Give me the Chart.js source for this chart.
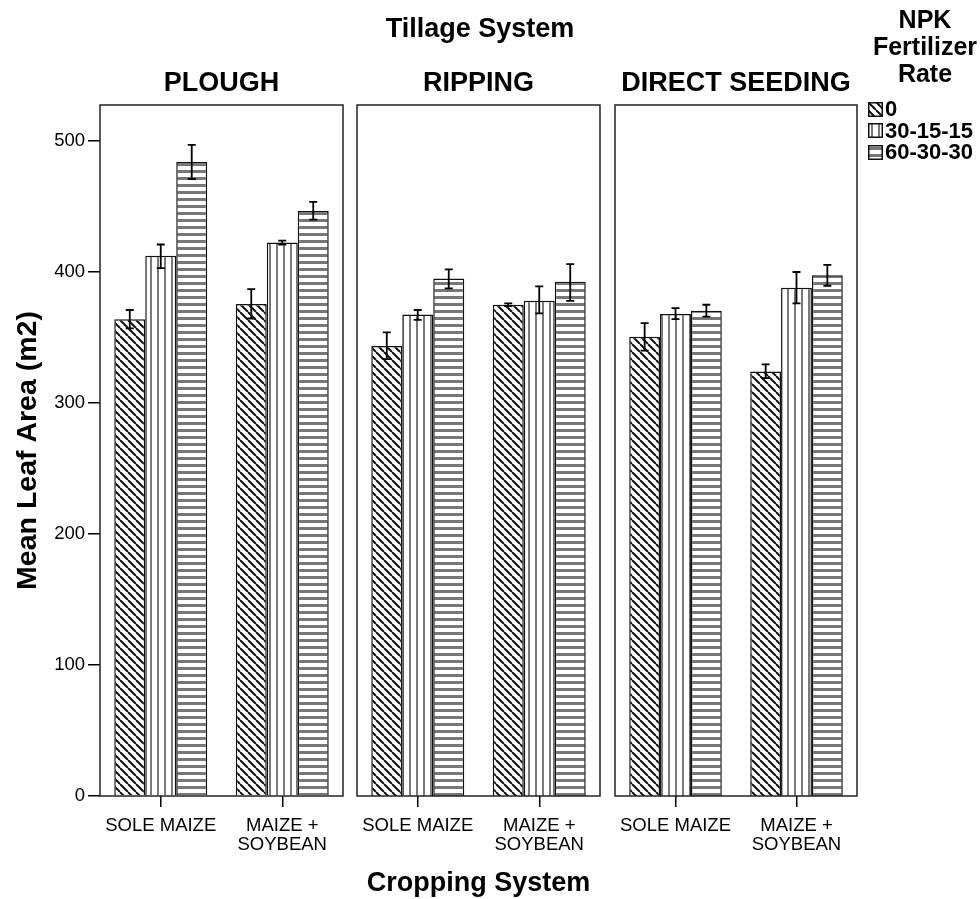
<!DOCTYPE html>
<html><head><meta charset="utf-8">
<script src="https://cdn.jsdelivr.net/npm/chart.js@4.4.0/dist/chart.umd.min.js"></script>
<style>
html,body{margin:0;padding:0;background:#fff;}
#wrap{position:relative;width:980px;height:899px;overflow:hidden;font-family:"Liberation Sans",Arial,sans-serif;color:#000;}
#wrap canvas.ch{position:absolute;left:0;top:0;}
.t{position:absolute;font-weight:bold;white-space:nowrap;transform:translate(-50%,-50%);line-height:1;}
.lg{position:absolute;font-weight:bold;white-space:nowrap;line-height:1;transform:translateY(-50%);}
.sw{position:absolute;}
</style></head><body>
<div id="wrap">
<canvas class="ch" id="c0" width="980" height="899"></canvas>
<canvas class="ch" id="c1" width="980" height="899"></canvas>
<canvas class="ch" id="c2" width="980" height="899"></canvas>
</div>
<script>
// ---------- data ----------
const tillageSystems = ['PLOUGH', 'RIPPING', 'DIRECT SEEDING'];
const croppingSystems = ['SOLE MAIZE', ['MAIZE +', 'SOYBEAN']];
const npkRates = ['0', '30-15-15', '60-30-30'];
const yTicks = [0, 100, 200, 300, 400, 500];
// order: plough(sole, mix), ripping(sole, mix), direct seeding(sole, mix)
const mean0  = [364,   375.5, 343.5, 375,   350.5, 324];
const low0   = [357,   364.5, 333.5, 374,   340,   319];
const high0  = [371,   387,   354,   376,   361,   329.5];
const mean30 = [412.5, 422.5, 367.5, 378,   368,   388];
const low30  = [403,   421,   363.5, 368.5, 364,   376];
const high30 = [421,   424,   371,   389,   372.5, 400];
const mean60 = [484,   446.5, 395,   392.5, 370.5, 397.5];
const low60  = [471,   440,   387.5, 378,   366,   389.5];
const high60 = [497,   453.5, 402,   406,   375,   405.5];
const superTitle = 'Tillage System';
const xTitle = 'Cropping System';
const yTitle = 'Mean Leaf Area (m2)';
const legendTitle = ['NPK', 'Fertilizer', 'Rate'];

// ---------- layout / style ----------
const FONT = '"Liberation Sans", Arial, sans-serif';
const W = 980, H = 899;
const panelX = [[100, 343], [357, 600], [615, 857]];
const panelTop = 105, panelBottom = 796;
const yMax = 527.5;

const means = [mean0, mean30, mean60];
const lows = [low0, low30, low60];
const highs = [high0, high30, high60];

function makePattern(kind) {
  const c = document.createElement('canvas');
  const s = kind === 'diag' ? 8 : 7;
  c.width = s; c.height = s;
  const g = c.getContext('2d');
  g.fillStyle = '#fff'; g.fillRect(0, 0, s, s);
  if (kind === 'diag') {
    g.strokeStyle = '#111'; g.lineWidth = 2;
    g.beginPath();
    for (const x0 of [-s, 0, s]) { g.moveTo(x0, 0); g.lineTo(x0 + s, s); }
    g.stroke();
  } else if (kind === 'vert') {
    g.fillStyle = '#7a7a7a'; g.fillRect(3, 0, 2, s);
  } else {
    g.fillStyle = '#777'; g.fillRect(0, 2, s, 3);
  }
  return g.createPattern(c, 'repeat');
}
const patterns = [makePattern('diag'), makePattern('vert'), makePattern('horiz')];

Chart.defaults.color = '#000';
Chart.defaults.font.family = FONT;

const panelPlugin = {
  id: 'panelBox',
  afterDraw(chart) {
    const { ctx, chartArea: a } = chart;
    ctx.save();
    ctx.strokeStyle = '#222'; ctx.lineWidth = 1.5;
    ctx.strokeRect(a.left, a.top, a.right - a.left, a.bottom - a.top);
    ctx.restore();
  }
};
const errPlugin = {
  id: 'errBars',
  afterDatasetsDraw(chart) {
    const { ctx } = chart; const y = chart.scales.y;
    ctx.save();
    ctx.strokeStyle = '#000'; ctx.lineWidth = 1.8;
    chart.data.datasets.forEach((ds, i) => {
      chart.getDatasetMeta(i).data.forEach((bar, j) => {
        const x = bar.x;
        const yl = y.getPixelForValue(ds.errLow[j]);
        const yh = y.getPixelForValue(ds.errHigh[j]);
        ctx.beginPath();
        ctx.moveTo(x, yl); ctx.lineTo(x, yh);
        ctx.moveTo(x - 4, yl); ctx.lineTo(x + 4, yl);
        ctx.moveTo(x - 4, yh); ctx.lineTo(x + 4, yh);
        ctx.stroke();
      });
    });
    ctx.restore();
  }
};

function panelChart(p) {
  const [x0, x1] = panelX[p];
  const idx = [2 * p, 2 * p + 1];
  const datasets = npkRates.map((r, k) => ({
    label: r,
    data: idx.map(i => means[k][i]),
    errLow: idx.map(i => lows[k][i]),
    errHigh: idx.map(i => highs[k][i]),
    backgroundColor: patterns[k],
    borderColor: '#111',
    borderWidth: 1.5,
    categoryPercentage: 0.765,
    barPercentage: 1.0
  }));
  return new Chart(document.getElementById('c' + p), {
    type: 'bar',
    data: { labels: croppingSystems, datasets },
    plugins: [errPlugin, panelPlugin],
    options: {
      responsive: false, animation: false, devicePixelRatio: 1,
      layout: { padding: { left: p === 0 ? 0 : x0, right: W - x1, top: panelTop, bottom: 0 } },
      plugins: { legend: { display: false }, tooltip: { enabled: false }, title: { display: false } },
      scales: {
        x: {
          type: 'category', offset: true,
          grid: { display: true, drawOnChartArea: false, drawTicks: true, tickLength: 11, offset: false, color: '#000', lineWidth: 1.5 },
          border: { display: false },
          ticks: { color: '#000', font: { size: 18.5, family: FONT, lineHeight: 1.05 }, padding: 9, maxRotation: 0, autoSkip: false },
          title: { display: p === 1, text: xTitle, color: '#000', font: { size: 27, weight: 'bold', family: FONT, lineHeight: 1 }, padding: { top: 0, bottom: 2 } },
          afterFit(s) { s.height = H - panelBottom; }
        },
        y: {
          display: p === 0, min: 0, max: yMax,
          afterBuildTicks(s) { s.ticks = yTicks.map(v => ({ value: v })); },
          grid: { drawOnChartArea: false, drawTicks: true, tickLength: 12, color: '#000', lineWidth: 1.5 },
          border: { display: false },
          ticks: { color: '#000', font: { size: 18.5, family: FONT }, padding: 3 },
          title: { display: true, text: yTitle, color: '#000', font: { size: 28.5, weight: 'bold', family: FONT, lineHeight: 1.2 }, padding: { top: 11, bottom: 0 } },
          afterFit(s) { if (p === 0) s.width = panelX[0][0]; }
        }
      }
    }
  });
}
[0, 1, 2].forEach(panelChart);

// ---------- HTML text: titles and legend ----------
const wrap = document.getElementById('wrap');
function addText(txt, x, y, size, cls) {
  const d = document.createElement('div');
  d.className = cls || 't';
  d.textContent = txt;
  d.style.left = x + 'px'; d.style.top = y + 'px'; d.style.fontSize = size + 'px';
  wrap.appendChild(d);
  return d;
}
addText(superTitle, 480, 28, 27);
tillageSystems.forEach((t, p) => addText(t, (panelX[p][0] + panelX[p][1]) / 2, 82, 27));
legendTitle.forEach((t, i) => addText(t, 925, 19 + i * 27, 25));
npkRates.forEach((r, k) => {
  const cy = 109 + k * 21.5;
  const sw = document.createElement('canvas');
  sw.width = 15; sw.height = 15; sw.className = 'sw';
  sw.style.left = '868px'; sw.style.top = (cy - 7.5) + 'px';
  const g = sw.getContext('2d');
  g.fillStyle = patterns[k]; g.fillRect(0, 0, 15, 15);
  g.strokeStyle = '#111'; g.lineWidth = 1.5; g.strokeRect(0.75, 0.75, 13.5, 13.5);
  wrap.appendChild(sw);
  addText(r, 885, cy, 22, 'lg');
});
</script>
</body></html>
